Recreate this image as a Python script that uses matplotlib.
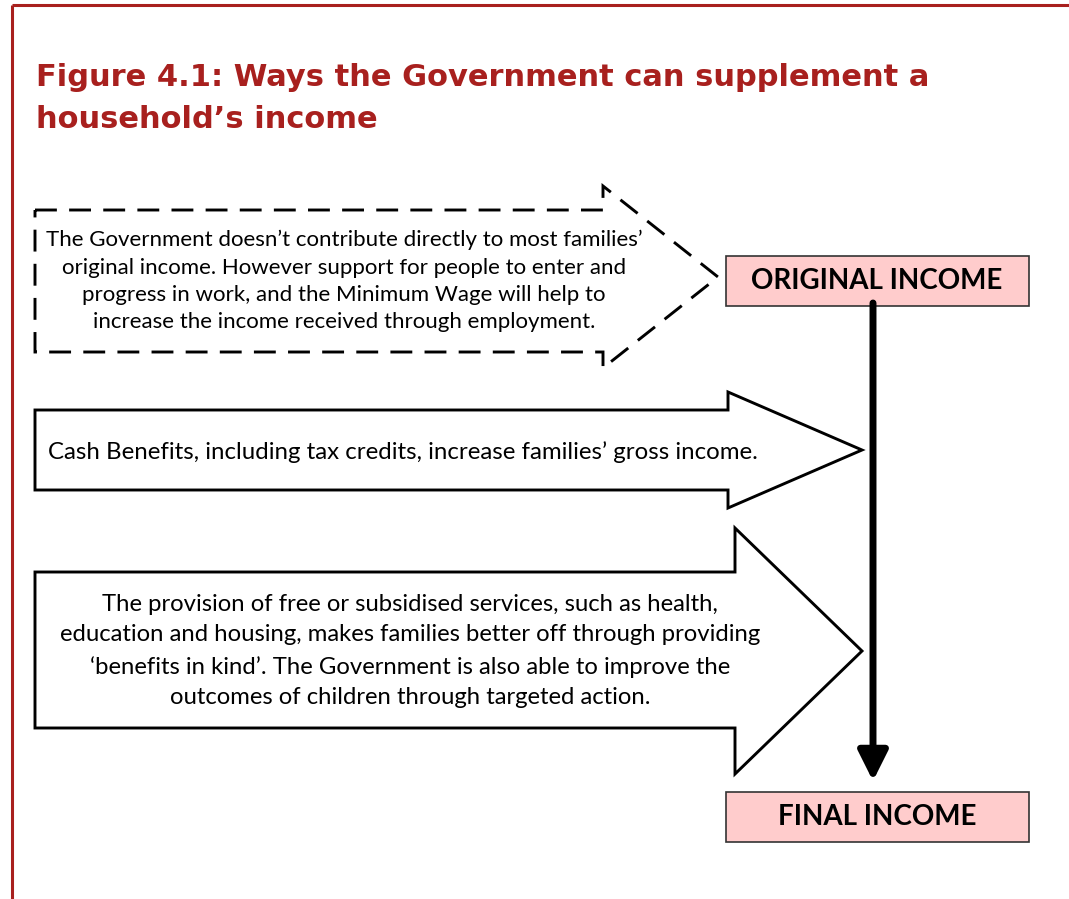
import matplotlib.pyplot as plt
from matplotlib.patches import Polygon, Rectangle

# text content
title_lines = ["Figure 4.1: Ways the Government can supplement a",
               "household\u2019s income"]
work_lines = ["The Government doesn\u2019t contribute directly to most families\u2019",
              "original income. However support for people to enter and",
              "progress in work, and the Minimum Wage will help to",
              "increase the income received through employment."]
cash_lines = ["Cash Benefits, including tax credits, increase families\u2019 gross income."]
kind_lines = ["The provision of free or subsidised services, such as health,",
              "education and housing, makes families better off through providing",
              "\u2018benefits in kind\u2019. The Government is also able to improve the",
              "outcomes of children through targeted action."]
box_labels = ["ORIGINAL INCOME", "FINAL INCOME"]

RED = "#A8201E"
PINK = "#FFCCCC"
W, H = 1069, 899

fig = plt.figure(figsize=(W / 100, H / 100), dpi=100)
ax = fig.add_axes([0, 0, 1, 1])
ax.set_xlim(0, W)
ax.set_ylim(H, 0)
ax.axis("off")

# red frame (top and left)
ax.plot([12, W], [5, 5], color=RED, lw=2.2, solid_capstyle="butt")
ax.plot([12, 12], [5, H], color=RED, lw=2.2, solid_capstyle="butt")

# title
for i, line in enumerate(title_lines):
    ax.text(36, 78 + i * 42, line, color=RED, fontsize=22, fontweight="bold",
            family="DejaVu Sans", ha="left", va="center")


def block_arrow(x0, y_top, y_bot, x_head, h_top, h_bot, x_tip, **kw):
    y_mid = (h_top + h_bot) / 2
    pts = [(x0, y_top), (x_head, y_top), (x_head, h_top), (x_tip, y_mid),
           (x_head, h_bot), (x_head, y_bot), (x0, y_bot)]
    ax.add_patch(Polygon(pts, closed=True, facecolor="white", edgecolor="black",
                         joinstyle="miter", **kw))


# arrow 1: dashed
block_arrow(35, 210, 352, 603, 186, 368, 718, lw=2.1, linestyle=(0, (7.5, 4.2)))
ax.text(344, 281, "\n".join(work_lines), fontsize=16, family="Lato",
        ha="center", va="center", linespacing=1.45)

# arrow 2
block_arrow(35, 410, 490, 728, 392, 508, 862, lw=2.1)
ax.text(48, 452, cash_lines[0], fontsize=17.3, family="Lato",
        ha="left", va="center")

# arrow 3
block_arrow(35, 572, 728, 735, 528, 774, 862, lw=2.1)
ax.text(410, 651, "\n".join(kind_lines), fontsize=17.2, family="Lato",
        ha="center", va="center", linespacing=1.57)

# income boxes
for label, yc in zip(box_labels, [281, 817]):
    ax.add_patch(Rectangle((726, yc - 25), 303, 50, facecolor=PINK,
                           edgecolor="#333333", lw=1.2))
    ax.text(877, yc, label, fontsize=20, fontweight="bold", family="Lato",
            ha="center", va="center")

# vertical flow arrow
ax.annotate("", xy=(873, 781), xytext=(873, 303),
            arrowprops=dict(arrowstyle="-|>,head_length=1.8,head_width=0.9",
                            lw=5, color="black", shrinkA=0, shrinkB=0))

fig.savefig("out.png", dpi=100)
